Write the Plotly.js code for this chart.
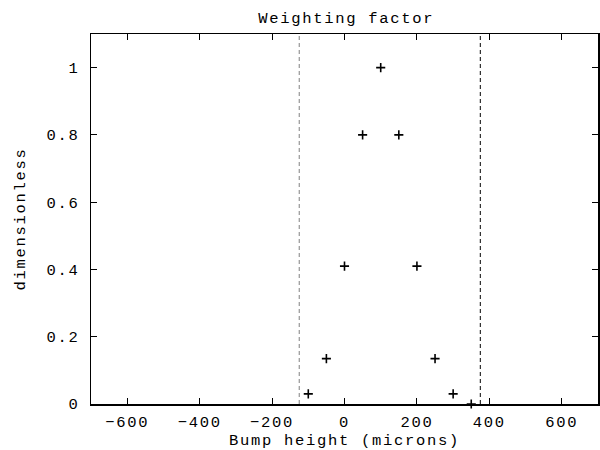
<!DOCTYPE html>
<html>
<head>
<meta charset="utf-8">
<script src="https://cdn.plot.ly/plotly-3.0.1.min.js"></script>
<style>html,body{margin:0;padding:0;background:#fff;}#chart{width:600px;height:450px;} svg text{letter-spacing:1.7px;}</style>
</head>
<body>
<div id="chart"></div>
<script>
const bumpHeight = [-100, -50, 0, 50, 100, 150, 200, 250, 300, 350];
const weight = [0.03, 0.135, 0.41, 0.8, 1.0, 0.8, 0.41, 0.135, 0.03, 0.0];
const boundaries = [-125, 375];
const boundaryColors = ['#808080', '#000000'];
const xTicks = [-600, -400, -200, 0, 200, 400, 600];
const yTicks = [0, 0.2, 0.4, 0.6, 0.8, 1];
const yTickLabels = ['0', '0.2', '0.4', '0.6', '0.8', '1'];

const font = "'Liberation Mono', 'DejaVu Sans Mono', monospace";
const fs = 15.5;

const traces = [{
  x: bumpHeight,
  y: weight,
  type: 'scatter',
  mode: 'markers',
  marker: {symbol: 'cross-thin', size: 6.5, color: '#000', line: {color: '#000', width: 1.6}},
  cliponaxis: false,
  showlegend: false,
  hoverinfo: 'x+y'
}];

const shapes = boundaries.map((b, i) => ({
  type: 'line', xref: 'x', yref: 'paper', x0: b, x1: b, y0: 0, y1: 1,
  line: {color: boundaryColors[i], width: 1, dash: '4px,3px'}
}));

const layout = {
  width: 600, height: 450,
  margin: {l: 91, r: 2, t: 34, b: 46},
  paper_bgcolor: '#fff', plot_bgcolor: '#fff',
  font: {family: font, size: fs, color: '#000'},
  title: {text: 'Weighting factor', x: 0.577, xanchor: 'center', y: 0.962, yanchor: 'middle', font: {family: font, size: fs, color: '#000'}},
  xaxis: {
    range: [-700, 700], tickvals: xTicks, ticks: 'inside', ticklen: 6, tickcolor: '#000',
    showline: true, linecolor: '#000', linewidth: 1.5, mirror: 'ticks', showgrid: false, zeroline: false,
    ticklabelstandoff: 3,
    tickfont: {family: font, size: fs}, title: {text: 'Bump height (microns)', standoff: 5, font: {family: font, size: fs}}
  },
  yaxis: {
    range: [0, 1.1], tickvals: yTicks, ticktext: yTickLabels, ticks: 'inside', ticklen: 6, tickcolor: '#000',
    showline: true, linecolor: '#000', linewidth: 1.5, mirror: 'ticks', showgrid: false, zeroline: false,
    ticklabelstandoff: 7,
    tickfont: {family: font, size: fs}, title: {text: 'dimensionless', standoff: 17, font: {family: font, size: fs}}
  },
  shapes: shapes
};

Plotly.newPlot('chart', traces, layout, {staticPlot: true});
</script>
</body>
</html>
